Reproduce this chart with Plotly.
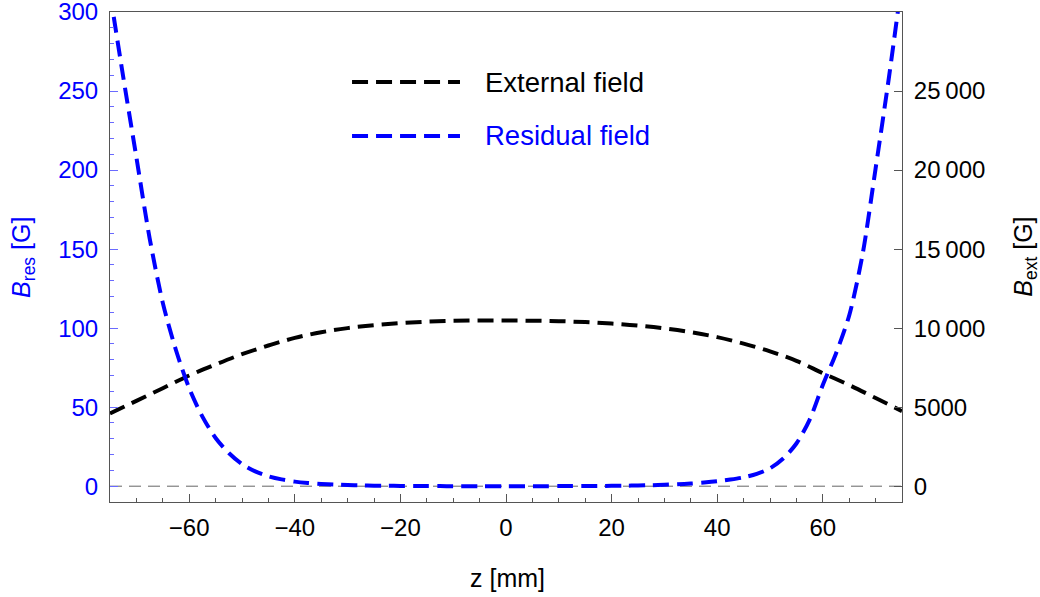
import plotly.graph_objects as go

# ---------------- data ----------------
z_res = [-75, -72.5, -70, -67.5, -65, -62.5, -60, -57.5, -55, -52.5, -50, -47.5, -45, -42.5,
         -40, -37.5, -35, -32.5, -30, -27.5, -25, -22.5, -20, -17.5, -15, -12.5, -10, -7.5, -5, -2.5,
         0, 2.5, 5, 7.5, 10, 12.5, 15, 17.5, 20, 22.5, 25, 27.5, 30, 32.5, 35, 37.5,
         40, 42.5, 45, 47.5, 50, 52.5, 55, 57.5, 60, 62.5, 65, 67.5, 70, 72.5, 75]
b_res = [312, 259, 208, 157, 116, 86, 62, 44, 30.5, 21, 14, 9.4, 6.3, 4.3,
         2.9, 2.0, 1.4, 1.0, 0.7, 0.5, 0.35, 0.25, 0.17, 0.12, 0.08, 0.05, 0.03, 0.02, 0.01, 0.01,
         0.01, 0.01, 0.02, 0.03, 0.05, 0.07, 0.1, 0.15, 0.22, 0.3, 0.45, 0.65, 0.9, 1.25, 1.7, 2.3,
         3.1, 4.2, 5.6, 7.8, 11.3, 17.5, 27, 42, 64, 84, 108, 146, 201, 258, 320]

z_ext = [-75, -70, -65, -60, -55, -50, -45, -40, -35, -30, -25, -20, -15, -10, -5, 0,
         5, 10, 15, 20, 25, 30, 35, 40, 45, 50, 55, 60, 65, 70, 75]
b_ext = [4600, 5400, 6200, 7000, 7700, 8350, 8900, 9380, 9740, 10000, 10190, 10320, 10410, 10460, 10480, 10480,
         10470, 10440, 10380, 10290, 10160, 9980, 9740, 9430, 9020, 8530, 7930, 7150, 6400, 5580, 4750]

series_names = ["External field", "Residual field"]
series_colors = ["#000000", "#0000ff"]

x_ticks = [-60, -40, -20, 0, 20, 40, 60]
res_ticks = [0, 50, 100, 150, 200, 250, 300]
ext_ticks = [0, 5000, 10000, 15000, 20000, 25000]
ext_ticktext = ["0", "5000", "10\u2009000", "15\u2009000", "20\u2009000", "25\u2009000"]

axis_titles = ["z [mm]", "<i>B</i><sub>res</sub> [G]", "<i>B</i><sub>ext</sub> [G]"]

FONT = "Liberation Sans, Arial, Helvetica, sans-serif"
AXC = "#555555"

fig = go.Figure()

fig.add_trace(go.Scatter(
    x=z_ext, y=b_ext, mode="lines", name=series_names[0], yaxis="y",
    line=dict(color=series_colors[0], width=4, dash="16px,8px", shape="spline", smoothing=1.0),
    showlegend=False))
fig.add_trace(go.Scatter(
    x=z_res, y=b_res, mode="lines", name=series_names[1], yaxis="y2",
    line=dict(color=series_colors[1], width=4, dash="16px,8px", shape="spline", smoothing=0.8),
    showlegend=False))

fig.update_layout(
    width=1040, height=597,
    margin=dict(l=110, r=138, t=12, b=95, autoexpand=False),
    paper_bgcolor="white", plot_bgcolor="white",
    font=dict(family=FONT, size=24, color="black"),
    xaxis=dict(
        range=[-75, 75], tickvals=x_ticks, ticks="inside", ticklen=8, tickcolor=AXC, tickwidth=1,
        showline=True, linecolor=AXC, linewidth=1, mirror=True, showgrid=False, zeroline=False,
        minor=dict(ticks="inside", ticklen=4, dtick=5, tick0=0, tickcolor=AXC, showgrid=False),
        tickfont=dict(size=24, color="black"), ticklabelstandoff=4, automargin=False,
        ticklabeloverflow="allow",
    ),
    yaxis=dict(
        range=[-1000, 30000], side="right", anchor="x",
        tickvals=ext_ticks, ticktext=ext_ticktext, ticks="inside", ticklen=8, tickcolor=AXC,
        showline=True, linecolor=AXC, linewidth=1, showgrid=False, zeroline=False,
        tickfont=dict(size=24, color="black"), ticklabelstandoff=6, automargin=False,
        ticklabeloverflow="allow",
    ),
    yaxis2=dict(
        range=[-10, 300], side="left", overlaying="y", anchor="x",
        tickvals=res_ticks, ticks="inside", ticklen=8, tickcolor="#6a6aff",
        minor=dict(ticks="inside", ticklen=4, dtick=10, tick0=0, tickcolor="#6a6aff", showgrid=False),
        showline=True, linecolor=AXC, linewidth=1, showgrid=False, zeroline=False,
        tickfont=dict(size=24, color="#0000ff"), ticklabelstandoff=6, automargin=False,
        ticklabeloverflow="allow",
    ),
)

# axis titles
fig.add_annotation(xref="paper", yref="paper", x=0.5025, y=-0.155, text=axis_titles[0], showarrow=False,
                   xanchor="center", yanchor="middle", font=dict(size=25, color="black", family=FONT))
fig.add_annotation(xref="paper", yref="paper", x=-0.11, y=0.5, text=axis_titles[1], showarrow=False,
                   textangle=-90, xanchor="center", yanchor="middle",
                   font=dict(size=25, color="#0000ff", family=FONT))
fig.add_annotation(xref="paper", yref="paper", x=1.155, y=0.5, text=axis_titles[2], showarrow=False,
                   textangle=-90, xanchor="center", yanchor="middle",
                   font=dict(size=25, color="black", family=FONT))

# zero reference line
fig.add_shape(type="line", xref="paper", yref="y2", x0=0, x1=1, y0=0, y1=0,
              line=dict(color="#666666", width=1, dash="12px,7px"), layer="below")

# manual legend
leg_y = [0.857, 0.747]
for name, col, yy in zip(series_names, series_colors, leg_y):
    fig.add_shape(type="line", xref="paper", yref="paper", x0=0.3056, x1=0.4419, y0=yy, y1=yy,
                  line=dict(color=col, width=4, dash="16px,8px"))
    fig.add_annotation(xref="paper", yref="paper", x=0.471, y=yy, text=name, showarrow=False,
                       xanchor="left", yanchor="middle", font=dict(size=27.5, color=col, family=FONT))

fig.write_html("out.html", config={"displayModeBar": False},
               post_script="document.body.style.margin='0';")
